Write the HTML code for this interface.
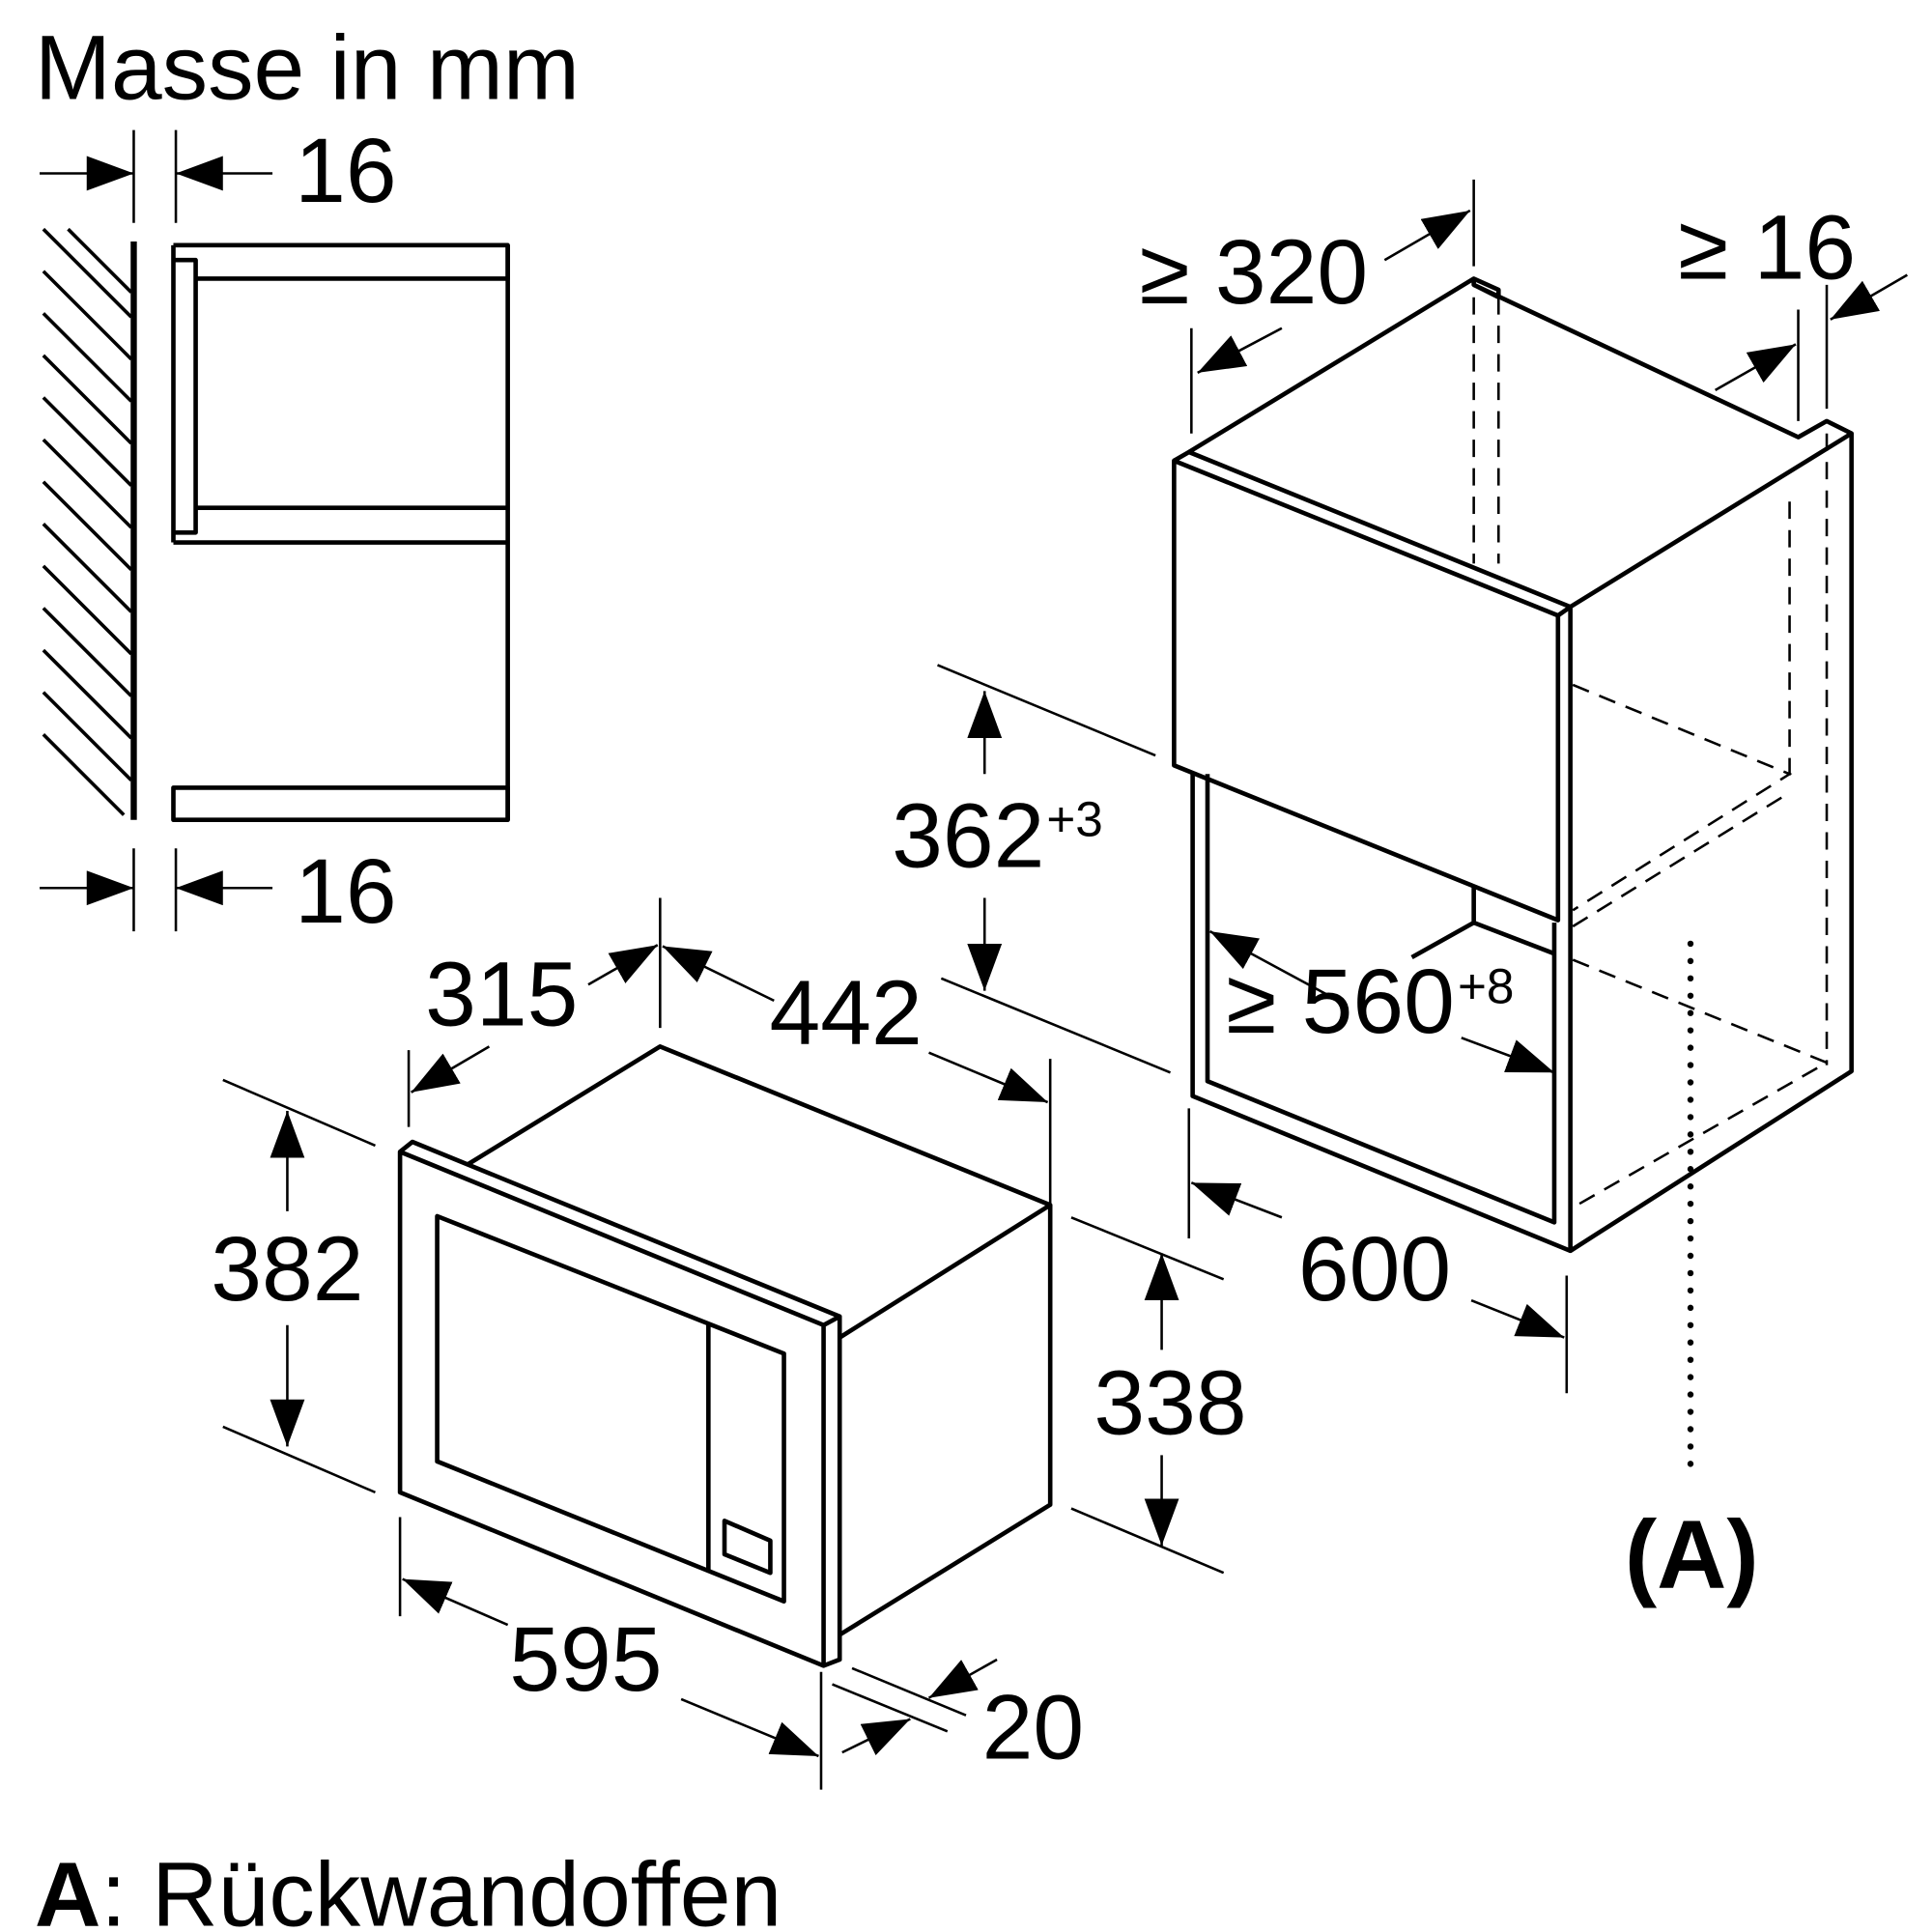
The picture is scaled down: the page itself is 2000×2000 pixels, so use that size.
<!DOCTYPE html>
<html><head><meta charset="utf-8"><style>html,body{margin:0;padding:0;background:#fff}svg{display:block}</style></head><body>
<svg width="2000" height="2000" viewBox="0 0 1560 1560" xmlns="http://www.w3.org/2000/svg">
<defs>
<marker id="a" markerUnits="userSpaceOnUse" markerWidth="42" markerHeight="32" refX="38" refY="14" orient="auto"><path d="M0,0 L38,14 L0,28 Z" fill="#000"/></marker>
</defs>
<g font-family="Liberation Sans, sans-serif" font-size="74" fill="#000">
<text x="28" y="80">Masse in mm</text>
<text x="238" y="163">16</text>
<text x="238" y="745">16</text>
<text x="232" y="1050" text-anchor="middle">382</text>
<text x="405" y="828" text-anchor="middle">315</text>
<text x="683" y="843" text-anchor="middle">442</text>
<text x="945" y="1158" text-anchor="middle">338</text>
<text x="473" y="1365" text-anchor="middle">595</text>
<text x="793" y="1420">20</text>
<text x="1110" y="1050" text-anchor="middle">600</text>
<text x="720" y="700">362</text><text x="845" y="675" font-size="40">+3</text>
<text x="990" y="834">≥ 560</text><text x="1177" y="810" font-size="40">+8</text>
<text x="920" y="245">≥ 320</text>
<text x="1355" y="225">≥ 16</text>
<text x="1366" y="1282" text-anchor="middle" font-weight="bold" font-size="78">(A)</text>
<text x="28" y="1555"><tspan font-weight="bold">A</tspan>: Rückwandoffen</text>
</g>
<g stroke="#000" fill="none" stroke-width="2">
<line x1="32" y1="140" x2="108" y2="140" marker-end="url(#a)"/>
<line x1="220" y1="140" x2="142" y2="140" marker-end="url(#a)"/>
<line x1="108" y1="105" x2="108" y2="180"/><line x1="142" y1="105" x2="142" y2="180"/>
<line x1="32" y1="717" x2="108" y2="717" marker-end="url(#a)"/>
<line x1="220" y1="717" x2="142" y2="717" marker-end="url(#a)"/>
<line x1="108" y1="685" x2="108" y2="752"/><line x1="142" y1="685" x2="142" y2="752"/>
<line x1="180" y1="872" x2="303" y2="925"/><line x1="180" y1="1152" x2="303" y2="1205"/>
<line x1="232" y1="978" x2="232" y2="897" marker-end="url(#a)"/>
<line x1="232" y1="1070" x2="232" y2="1168" marker-end="url(#a)"/>
<line x1="330" y1="848" x2="330" y2="910"/><line x1="533" y1="725" x2="533" y2="830"/>
<line x1="395" y1="845" x2="332" y2="882" marker-end="url(#a)"/>
<line x1="475" y1="795" x2="531" y2="763" marker-end="url(#a)"/>
<line x1="625" y1="808" x2="535" y2="764" marker-end="url(#a)"/>
<line x1="750" y1="850" x2="846" y2="890" marker-end="url(#a)"/>
<line x1="848" y1="855" x2="848" y2="990"/>
<line x1="865" y1="983" x2="988" y2="1033"/><line x1="865" y1="1218" x2="988" y2="1270"/>
<line x1="938" y1="1090" x2="938" y2="1012" marker-end="url(#a)"/>
<line x1="938" y1="1175" x2="938" y2="1248" marker-end="url(#a)"/>
<line x1="323" y1="1225" x2="323" y2="1305"/><line x1="663" y1="1350" x2="663" y2="1445"/>
<line x1="410" y1="1312" x2="325" y2="1275" marker-end="url(#a)"/>
<line x1="550" y1="1372" x2="661" y2="1418" marker-end="url(#a)"/>
<line x1="688" y1="1347" x2="780" y2="1385"/><line x1="672" y1="1360" x2="765" y2="1398"/>
<line x1="805" y1="1340" x2="750" y2="1371" marker-end="url(#a)"/>
<line x1="680" y1="1415" x2="735" y2="1388" marker-end="url(#a)"/>
<line x1="757" y1="537" x2="933" y2="610"/><line x1="760" y1="790" x2="945" y2="866"/>
<line x1="795" y1="625" x2="795" y2="558" marker-end="url(#a)"/>
<line x1="795" y1="725" x2="795" y2="800" marker-end="url(#a)"/>
<line x1="1075" y1="805" x2="977" y2="752" marker-end="url(#a)"/>
<line x1="1180" y1="838" x2="1255" y2="866" marker-end="url(#a)"/>
<line x1="960" y1="895" x2="960" y2="1000"/><line x1="1265" y1="1030" x2="1265" y2="1125"/>
<line x1="1035" y1="983" x2="962" y2="955" marker-end="url(#a)"/>
<line x1="1188" y1="1050" x2="1263" y2="1080" marker-end="url(#a)"/>
<line x1="962" y1="265" x2="962" y2="350"/><line x1="1190" y1="145" x2="1190" y2="215"/>
<line x1="1035" y1="265" x2="967" y2="301" marker-end="url(#a)"/>
<line x1="1118" y1="210" x2="1187" y2="170" marker-end="url(#a)"/>
<line x1="1452" y1="250" x2="1452" y2="340"/><line x1="1475" y1="230" x2="1475" y2="330"/>
<line x1="1385" y1="315" x2="1450" y2="278" marker-end="url(#a)"/>
<line x1="1540" y1="222" x2="1478" y2="258" marker-end="url(#a)"/>
</g>
<g stroke="#000" fill="none" stroke-width="3.6" stroke-linejoin="round">
<line x1="108" y1="195" x2="108" y2="662" stroke-width="5"/>
<g stroke-width="2.8">
<line x1="35" y1="185" x2="106" y2="256"/><line x1="35" y1="219" x2="106" y2="290"/><line x1="35" y1="253" x2="106" y2="324"/><line x1="35" y1="287" x2="106" y2="358"/><line x1="35" y1="321" x2="106" y2="392"/><line x1="35" y1="355" x2="106" y2="426"/><line x1="35" y1="389" x2="106" y2="460"/><line x1="35" y1="423" x2="106" y2="494"/><line x1="35" y1="457" x2="106" y2="528"/><line x1="35" y1="491" x2="106" y2="562"/><line x1="35" y1="525" x2="106" y2="596"/><line x1="35" y1="559" x2="106" y2="630"/><line x1="35" y1="593" x2="100" y2="658"/><line x1="55" y1="185" x2="106" y2="236"/>
</g>
<path d="M140,198 H410 V225 H158"/><path d="M140,198 V438"/>
<path d="M140,210 H158 V430 H140"/>
<path d="M158,410 H410 M140,438 H410 M410,198 V662"/>
<path d="M140,636 H410 V662 H140 Z"/>
<path d="M323,930 L333,922 L678,1063 L678,1340 L665,1345 L323,1205 Z"/>
<path d="M323,930 L665,1070 L678,1063 M665,1070 V1345"/>
<path d="M378,940 L533,845 L848,973 L678,1080 M848,973 V1215 L678,1320"/>
<path d="M353,982 L633,1093 V1293 L353,1180 Z"/>
<path d="M572,1068 V1268"/>
<path d="M585,1228 L622,1244 V1270 L585,1255 Z"/>
<path d="M948,372 L1258,497 V743 L948,618 Z"/>
<path d="M948,372 L960,365 L1268,490 L1258,497"/>
<path d="M960,365 L1190,225 L1210,234 V240 M1190,225 L1190,230 L1210,240 M1190,230 L1452,353 L1475,340 L1495,350 L1268,490"/>
<path d="M1268,490 V1010 L1495,865 V350"/>
<path d="M963,625 V885 L1268,1010 M975,625 V873 L1255,987 V745"/>
<path d="M1190,715 V745 L1140,773 M1190,745 L1255,770"/>
</g>
<g stroke="#000" fill="none" stroke-width="2" stroke-dasharray="14,9">
<path d="M1190,240 V455 M1210,240 V455 M1445,405 V630 M1475,350 V860"/>
<path d="M1270,553 L1445,625 L1270,735 M1270,748 L1445,640 M1270,775 L1475,858 L1270,975"/>
</g>
<line x1="1365" y1="762" x2="1365" y2="1192" stroke="#000" stroke-width="5" stroke-linecap="round" stroke-dasharray="0,14"/>
</svg>
</body></html>
